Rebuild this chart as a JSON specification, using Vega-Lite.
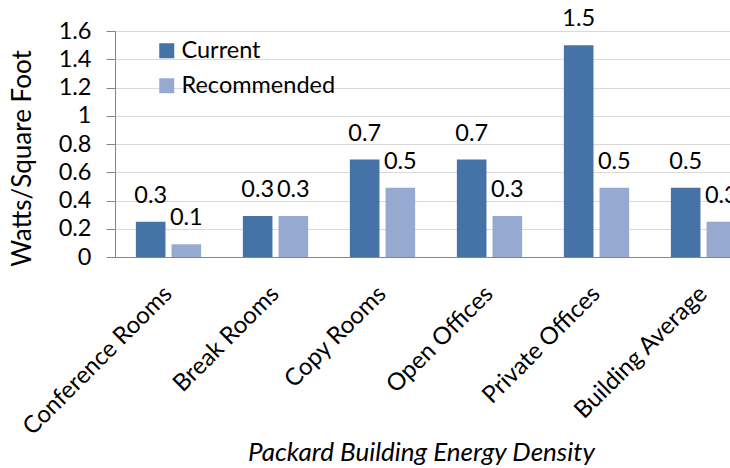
{
  "$schema": "https://vega.github.io/schema/vega-lite/v6.json",
  "autosize": {"type": "none"},
  "width": 615,
  "height": 226,
  "padding": {"left": 115, "top": 31, "right": 0, "bottom": 211},
  "background": "white",
  "config": {"view": {"stroke": null}, "font": "Lato"},
  "data": {
    "values": [
      {"area": "Conference Rooms", "series": "Current", "value": 0.25},
      {"area": "Conference Rooms", "series": "Recommended", "value": 0.09},
      {"area": "Break Rooms", "series": "Current", "value": 0.29},
      {"area": "Break Rooms", "series": "Recommended", "value": 0.29},
      {"area": "Copy Rooms", "series": "Current", "value": 0.69},
      {"area": "Copy Rooms", "series": "Recommended", "value": 0.49},
      {"area": "Open Offices", "series": "Current", "value": 0.69},
      {"area": "Open Offices", "series": "Recommended", "value": 0.29},
      {"area": "Private Offices", "series": "Current", "value": 1.5},
      {"area": "Private Offices", "series": "Recommended", "value": 0.49},
      {"area": "Building Average", "series": "Current", "value": 0.49},
      {"area": "Building Average", "series": "Recommended", "value": 0.25}
    ]
  },
  "encoding": {
    "x": {
      "field": "area",
      "type": "nominal",
      "sort": null,
      "title": "Packard Building Energy Density",
      "scale": {"range": [0, 642], "paddingInner": 0.39, "paddingOuter": 0.195},
      "axis": {
        "labelAngle": -45,
        "labelAlign": "right",
        "labelBaseline": "middle",
        "labelPadding": 33,
        "labelFontSize": 24,
        "labelColor": "#000000",
        "labelLimit": 0,
        "labelOverlap": false,
        "ticks": false,
        "domainColor": "#868686",
        "grid": false,
        "titleFontSize": 26,
        "titleFontStyle": "italic",
        "titleFontWeight": "normal",
        "titleColor": "#000000",
        "titleX": 306,
        "titleY": 203,
        "titleAlign": "center",
        "titleBaseline": "alphabetic"
      }
    },
    "xOffset": {
      "field": "series",
      "type": "nominal",
      "sort": ["Current", "Recommended"],
      "scale": {"paddingInner": 0.17}
    },
    "y": {
      "field": "value",
      "type": "quantitative",
      "title": "Watts/Square Foot",
      "scale": {"domain": [0, 1.6], "nice": false},
      "axis": {
        "values": [0, 0.2, 0.4, 0.6, 0.8, 1, 1.2, 1.4, 1.6],
        "format": "~g",
        "grid": true,
        "gridColor": "#D9D9D9",
        "domainColor": "#868686",
        "tickColor": "#868686",
        "tickSize": 9,
        "labelPadding": 15,
        "labelFontSize": 23.5,
        "labelColor": "#000000",
        "titleFontSize": 26,
        "titleFontWeight": "normal",
        "titleColor": "#000000",
        "titleX": -80,
        "titleY": 127,
        "titleAlign": "center",
        "titleBaseline": "bottom"
      }
    }
  },
  "layer": [
    {
      "mark": {"type": "bar"},
      "encoding": {
        "color": {
          "field": "series",
          "type": "nominal",
          "sort": ["Current", "Recommended"],
          "scale": {"domain": ["Current", "Recommended"], "range": ["#4572A7", "#95A9D1"]},
          "legend": {
            "orient": "none",
            "legendX": 40,
            "legendY": 8,
            "title": null,
            "symbolType": "square",
            "symbolSize": 225,
            "symbolStrokeWidth": 0,
            "labelFontSize": 23.5,
            "labelColor": "#000000",
            "labelOffset": 3,
            "rowPadding": 10
          }
        }
      }
    },
    {
      "mark": {"type": "text", "dy": -19, "baseline": "alphabetic", "fontSize": 23.5, "color": "#000000"},
      "encoding": {
        "text": {"field": "value", "type": "quantitative", "format": ".1f"}
      }
    }
  ]
}
